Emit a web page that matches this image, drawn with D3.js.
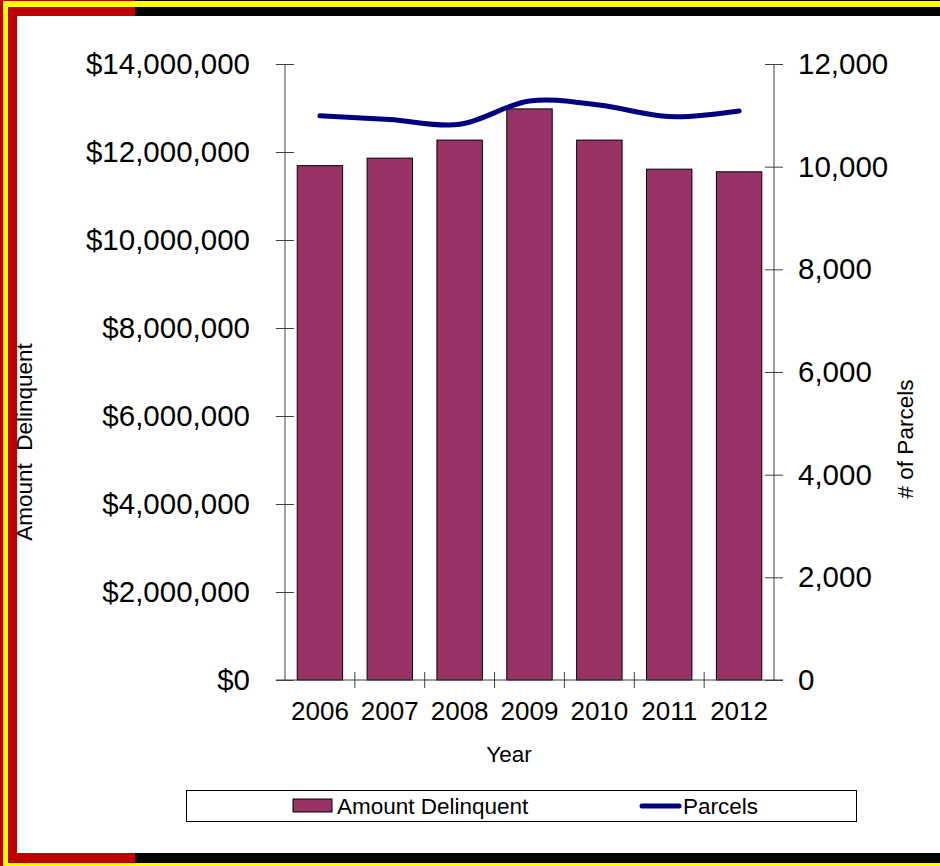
<!DOCTYPE html>
<html>
<head>
<meta charset="utf-8">
<script src="https://cdnjs.cloudflare.com/ajax/libs/d3/7.8.5/d3.min.js"></script>
<style>
  body { margin: 0; background: #fff; }
  svg { display: block; font-family: "Liberation Sans", Arial, sans-serif; }
</style>
</head>
<body>
<div id="chart"></div>
<script>
// data
var years = ["2006", "2007", "2008", "2009", "2010", "2011", "2012"]
var amountDelinquent = [11690000, 11860000, 12270000, 12980000, 12270000, 11610000, 11550000]
var parcels = [10990, 10920, 10825, 11280, 11200, 10975, 11085]
var leftTicks = [0, 2000000, 4000000, 6000000, 8000000, 10000000, 12000000, 14000000]
var rightTicks = [0, 2000, 4000, 6000, 8000, 10000, 12000]

var width = 940, height = 866

var svg = d3.select("#chart").append("svg")
  .attr("width", width)
  .attr("height", height)

// frame: red/black bands with yellow stripe
var split = 135
svg.append("rect").attr("x", 0).attr("y", 0).attr("width", split).attr("height", height).attr("fill", "#c00000")
svg.append("rect").attr("x", split).attr("y", 0).attr("width", width - split).attr("height", height).attr("fill", "#000")
svg.append("rect").attr("x", 3).attr("y", 1).attr("width", width).attr("height", height).attr("fill", "#ffff00")
svg.append("rect").attr("x", 8).attr("y", 7).attr("width", split - 8).attr("height", 856).attr("fill", "#c00000")
svg.append("rect").attr("x", split).attr("y", 7).attr("width", width - split).attr("height", 856).attr("fill", "#000")
svg.append("rect").attr("x", 17).attr("y", 16).attr("width", width - 17).attr("height", 837).attr("fill", "#fff")

var x = d3.scaleBand().domain(years).range([285, 774]).paddingInner(0.35).paddingOuter(0.175)
var xb = d3.scaleBand().domain(years).range([285, 774])
var yL = d3.scaleLinear().domain([0, 14000000]).range([680, 64])
var yR = d3.scaleLinear().domain([0, 12000]).range([680, 64])

var axisColor = "#404040"
var fmtL = function (d) { return "$" + d3.format(",")(d) }

// bars
svg.append("g").selectAll("rect")
  .data(years)
  .enter().append("rect")
  .attr("x", function (d) { return x(d) })
  .attr("y", function (d, i) { return yL(amountDelinquent[i]) })
  .attr("width", x.bandwidth())
  .attr("height", function (d, i) { return yL(0) - yL(amountDelinquent[i]) })
  .attr("fill", "#993366")
  .attr("stroke", "#000")
  .attr("stroke-width", 1)

// left axis
var gL = svg.append("g").attr("transform", "translate(285,0)")
  .call(d3.axisLeft(yL).tickValues(leftTicks).tickFormat(fmtL).tickSize(9))
gL.select(".domain").attr("stroke", axisColor).attr("d", "M0,64V680")
gL.selectAll(".tick line").attr("x1", -9).attr("x2", 9).attr("stroke", axisColor)
gL.selectAll(".tick text").attr("font-size", 29.5).attr("fill", "#000").attr("x", -35)

// right axis
var gR = svg.append("g").attr("transform", "translate(774,0)")
  .call(d3.axisRight(yR).tickValues(rightTicks).tickFormat(d3.format(",")).tickSize(9))
gR.select(".domain").attr("stroke", axisColor).attr("d", "M0,64V680")
gR.selectAll(".tick line").attr("x1", -9).attr("x2", 9).attr("stroke", axisColor)
gR.selectAll(".tick text").attr("font-size", 29.5).attr("fill", "#000").attr("x", 24)

// x axis
var gX = svg.append("g").attr("transform", "translate(0,680)")
  .call(d3.axisBottom(xb).tickSize(0).tickPadding(22))
gX.select(".domain").attr("stroke", axisColor).attr("d", "M276,0H783")
gX.selectAll(".tick text").attr("font-size", 26).attr("fill", "#000").attr("dy", "0.7em")
gX.selectAll(".bound")
  .data(years.slice(1))
  .enter().append("line")
  .attr("x1", function (d) { return xb(d) })
  .attr("x2", function (d) { return xb(d) })
  .attr("y1", -8).attr("y2", 8)
  .attr("stroke", axisColor)

// parcels line
var line = d3.line()
  .x(function (d, i) { return xb(years[i]) + xb.bandwidth() / 2 })
  .y(function (d) { return yR(d) })
  .curve(d3.curveCatmullRom.alpha(0))
svg.append("path")
  .datum(parcels)
  .attr("d", line)
  .attr("fill", "none")
  .attr("stroke", "#000080")
  .attr("stroke-width", 5)
  .attr("stroke-linecap", "round")

// axis titles
svg.append("text")
  .attr("transform", "translate(32,442) rotate(-90)")
  .attr("text-anchor", "middle")
  .attr("font-size", 22.5)
  .attr("xml:space", "preserve")
  .text("Amount  Delinquent")
svg.append("text")
  .attr("transform", "translate(913,439) rotate(-90)")
  .attr("text-anchor", "middle")
  .attr("font-size", 22.5)
  .text("# of Parcels")
svg.append("text")
  .attr("x", 509).attr("y", 762)
  .attr("text-anchor", "middle")
  .attr("font-size", 22.5)
  .text("Year")

// legend
var lg = svg.append("g")
lg.append("rect").attr("x", 186.5).attr("y", 790.5).attr("width", 670).attr("height", 31)
  .attr("fill", "#fff").attr("stroke", "#000")
lg.append("rect").attr("x", 293).attr("y", 799).attr("width", 39).attr("height", 13)
  .attr("fill", "#993366").attr("stroke", "#000")
lg.append("text").attr("x", 337).attr("y", 814).attr("font-size", 22.5).text("Amount Delinquent")
lg.append("line").attr("x1", 642).attr("x2", 679).attr("y1", 806).attr("y2", 806)
  .attr("stroke", "#000080").attr("stroke-width", 5).attr("stroke-linecap", "round")
lg.append("text").attr("x", 683).attr("y", 814).attr("font-size", 22.5).text("Parcels")
</script>
</body>
</html>
